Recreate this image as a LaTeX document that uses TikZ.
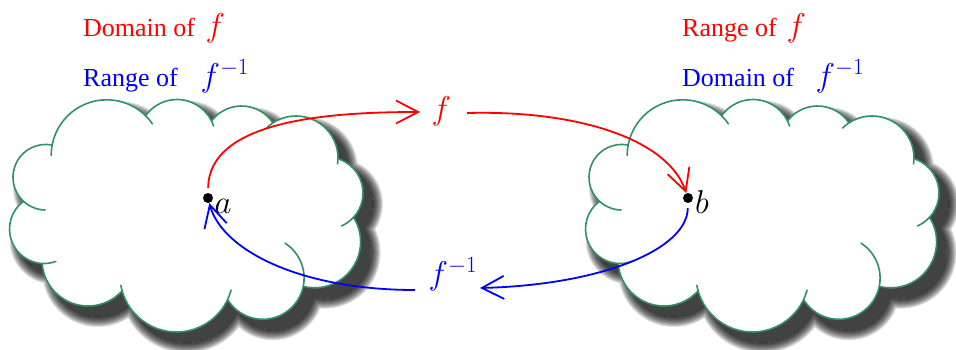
\RequirePackage{fix-cm}
\documentclass[tikz,border=0pt]{standalone}
\usepackage{fontspec}
\setmainfont{Liberation Serif}
\usetikzlibrary{arrows.meta}
\definecolor{cloudgreen}{RGB}{50,145,100}
\newcommand\mth[1]{{\fontsize{33}{36}\selectfont$#1$}}
\newcommand\cloudfillpath{%
([shift={(169.4:55.5pt)}]106.7,155.3) arc[start angle=169.4,end angle=45.7,radius=55.5pt]
-- ([shift={(144.6:38.5pt)}]177,138) arc[start angle=144.6,end angle=26.4,radius=38.5pt]
-- ([shift={(142.8:37.7pt)}]241.5,143.7) arc[start angle=142.8,end angle=33.5,radius=37.7pt]
-- ([shift={(123.3:42pt)}]296,158) arc[start angle=123.3,end angle=-1.1,radius=42pt]
-- ([shift={(72.3:36pt)}]327,193) arc[start angle=72.3,end angle=-42.5,radius=36pt]
-- ([shift={(32.2:46pt)}]314.6,241.8) arc[start angle=32.2,end angle=-104.2,radius=46pt]
-- ([shift={(-11.7:41.3pt)}]262.8,278) arc[start angle=-11.7,end angle=-148.3,radius=41.3pt]
-- ([shift={(-25.3:56.5pt)}]176.5,275.5) arc[start angle=-25.3,end angle=-164.3,radius=56.5pt]
-- ([shift={(-42:46pt)}]88,260) arc[start angle=-42,end angle=-175.5,radius=46pt]
-- ([shift={(-93.1:34.5pt)}]44,229) arc[start angle=-93.1,end angle=-233.4,radius=34.5pt]
-- ([shift={(227.1:32.8pt)}]45.8,177.2) arc[start angle=227.1,end angle=78.7,radius=32.8pt]
-- cycle}
\newcommand\cloudlinepath{%
([shift={(180:55.5pt)}]106.7,155.3) arc[start angle=180,end angle=34.5,radius=55.5pt]
([shift={(144.6:38.5pt)}]177,138) arc[start angle=144.6,end angle=18,radius=38.5pt]
([shift={(142.8:37.7pt)}]241.5,143.7) arc[start angle=142.8,end angle=33.5,radius=37.7pt]
([shift={(134.7:42pt)}]296,158) arc[start angle=134.7,end angle=-8,radius=42pt]
([shift={(72.3:36pt)}]327,193) arc[start angle=72.3,end angle=-66.4,radius=36pt]
([shift={(32.2:46pt)}]314.6,241.8) arc[start angle=32.2,end angle=-104.2,radius=46pt]
([shift={(57.4:41.3pt)}]262.8,278) arc[start angle=57.4,end angle=-148.3,radius=41.3pt]
([shift={(-15:56.5pt)}]176.5,275.5) arc[start angle=-15,end angle=-170,radius=56.5pt]
([shift={(-42:46pt)}]88,260) arc[start angle=-42,end angle=-175.5,radius=46pt]
([shift={(-70:34.5pt)}]44,229) arc[start angle=-70,end angle=-233.4,radius=34.5pt]
([shift={(268.6:32.8pt)}]45.8,177.2) arc[start angle=268.6,end angle=78.7,radius=32.8pt]
}
\newcommand\drawcloud{%
  \begin{scope}[shift={(10,11)}]
    \fill[black, opacity=0.74] \cloudfillpath;
    \begin{scope}[even odd rule]
      \clip (-60,-60) rectangle (460,460) \cloudfillpath;
      \foreach \w in {2,4,...,20} {\draw[black, opacity=0.125, line width=\w pt, line join=round] \cloudfillpath;}
    \end{scope}
  \end{scope}
  \fill[white] \cloudfillpath;
  \draw[cloudline] \cloudlinepath;
}
\begin{document}
\begin{tikzpicture}[x=1pt,y=-1pt,
  cloudline/.style={draw=cloudgreen, line width=1.6pt, line cap=round},
  ttl/.style={anchor=base west, inner sep=0pt, font=\fontsize{26}{30}\selectfont},
  mlab/.style={anchor=base west, inner sep=0pt},
  dot/.style={circle, fill=black, inner sep=0pt, minimum size=10pt},
  redarr/.style={draw=red, line width=1.8pt, -{Straight Barb[length=22pt,width=23pt]}},
  bluearr/.style={draw=blue, line width=1.8pt, -{Straight Barb[length=22pt,width=23pt]}}]
\useasboundingbox (0,0) rectangle (956,349);
% clouds
\drawcloud
\begin{scope}[shift={(576,0)}]
\drawcloud
\end{scope}
% titles
\node[ttl, red]  (t1) at (83,36) {Domain of\hspace{10.5pt}\mth{f}};
\node[ttl, blue] (t2) at (83,86) {Range of\hspace{22.8pt}\mth{f^{-1}}};
\node[ttl, red]  (t3) at (682,36) {Range of\hspace{9.8pt}\mth{f}};
\node[ttl, blue] (t4) at (682,86) {Domain of\hspace{21.5pt}\mth{f^{-1}}};
% points
\node[dot] (a) at (208,198) {};
\node[dot] (b) at (688,198) {};
\node[mlab] (la) at (214.5,213) {\mth{a}};
\node[mlab] (lb) at (695,213) {\mth{b}};
% middle labels
\node[mlab, red]  (fl) at (431.4,119.6) {\mth{f}};
\node[mlab, blue] (fi) at (428.5,284.6) {\mth{f^{-1}}};
% arrows
\draw[redarr, shorten <=5pt] (a) .. controls (209,120) and (330,112) .. ([shift={(-11.4,-7.6)}]fl.base west);
\draw[redarr] ([shift={(35.6,-6.6)}]fl.base west) .. controls (580,110) and (668,140) .. (b);
\draw[bluearr, shorten <=5pt] (b) .. controls (687,250) and (600,285) .. ([shift={(51.5,3.4)}]fi.base west);
\draw[bluearr] ([shift={(-13.5,5.4)}]fi.base west) .. controls (300,290) and (222,250) .. (a);
\end{tikzpicture}
\end{document}
